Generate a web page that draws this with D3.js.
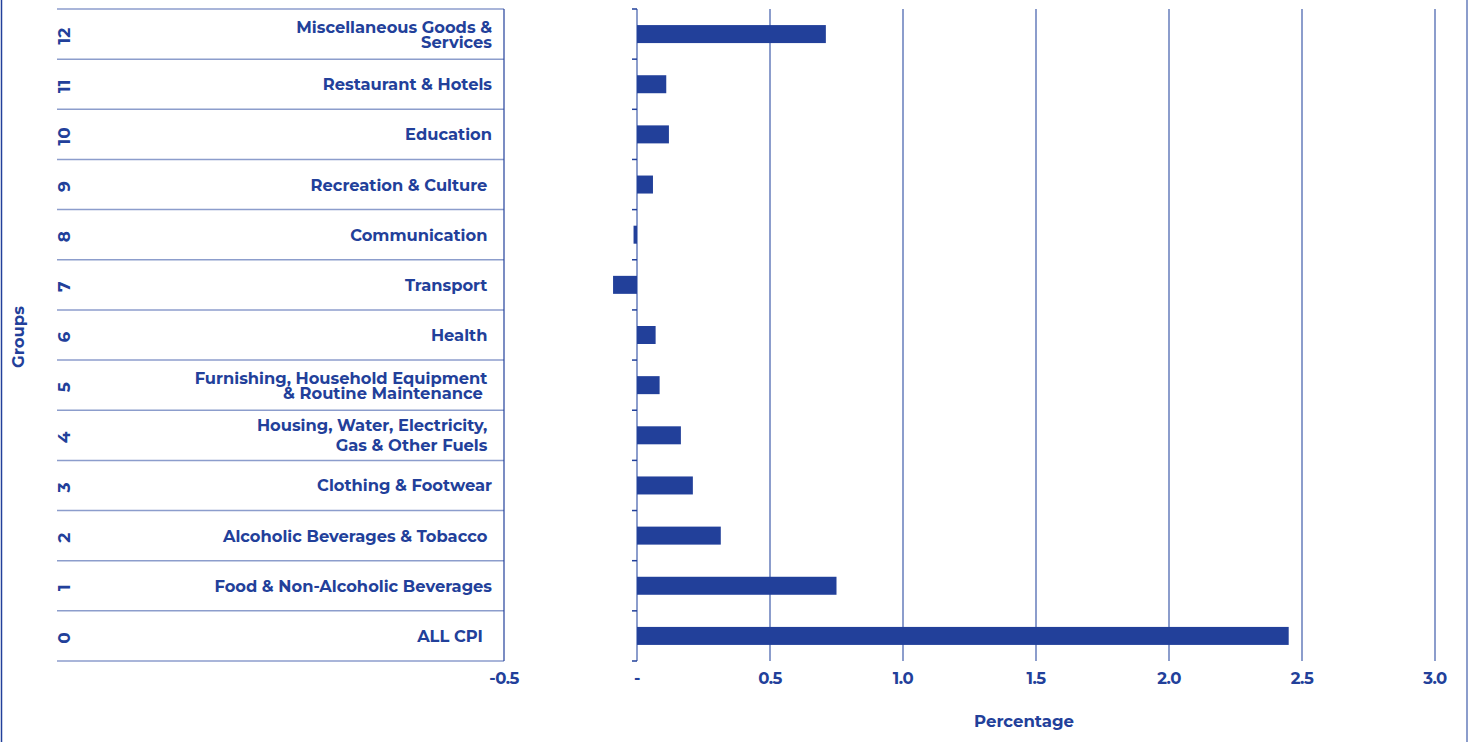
<!DOCTYPE html>
<html>
<head>
<meta charset="utf-8">
<script src="https://cdn.jsdelivr.net/npm/d3@7"></script>
<style>
  body { margin: 0; background: #fff; }
  svg { display: block; font-family: Montserrat, Inter, "Open Sans", sans-serif; font-weight: 700; }
  .lbl { white-space: pre; }
</style>
</head>
<body>
<svg id="chart" width="1474" height="742"></svg>
<script>
// group codes, top row first
const groups = [12, 11, 10, 9, 8, 7, 6, 5, 4, 3, 2, 1, 0];
const groupLabels = [
  ["Miscellaneous Goods &", "Services"],
  ["Restaurant & Hotels"],
  ["Education"],
  ["Recreation & Culture "],
  ["Communication "],
  ["Transport "],
  ["Health "],
  ["Furnishing, Household Equipment ", "& Routine Maintenance  "],
  ["Housing, Water, Electricity, ", "Gas & Other Fuels "],
  ["Clothing & Footwear"],
  ["Alcoholic Beverages & Tobacco "],
  ["Food & Non-Alcoholic Beverages"],
  ["ALL CPI  "]
];
const values = [0.71, 0.11, 0.12, 0.06, -0.013, -0.09, 0.07, 0.085, 0.165, 0.21, 0.315, 0.75, 2.45];
const xTicks = [-0.5, 0, 0.5, 1.0, 1.5, 2.0, 2.5, 3.0];

const dark = "#22409a";
const light = "#8c9dcc";

const svg = d3.select("#chart");

const x = d3.scaleLinear().domain([-0.5, 3.0]).range([504, 1435]);
const y = d3.scaleBand().domain(groups).range([9, 661]);
const barH = 18;

// outer frame lines
svg.append("line").attr("x1", 1.5).attr("x2", 1.5).attr("y1", 0).attr("y2", 742)
  .attr("stroke", dark).attr("stroke-width", 1.5);
svg.append("line").attr("x1", 1467).attr("x2", 1467).attr("y1", 0).attr("y2", 742)
  .attr("stroke", light).attr("stroke-width", 2);

// left table
const rowLines = groups.map(g => y(g)).concat([y.range()[1]]);
svg.append("g").selectAll("line")
  .data(rowLines)
  .enter().append("line")
  .attr("x1", 57).attr("x2", x(-0.5))
  .attr("y1", d => d).attr("y2", d => d)
  .attr("stroke", light).attr("stroke-width", 1.5);
svg.append("line")
  .attr("x1", x(-0.5)).attr("x2", x(-0.5))
  .attr("y1", y.range()[0]).attr("y2", y.range()[1])
  .attr("stroke", dark).attr("stroke-width", 1.2);

// group numbers (rotated)
svg.append("g").selectAll("text")
  .data(groups)
  .enter().append("text")
  .attr("transform", d => `translate(70,${y(d) + y.bandwidth() / 2 + 2}) rotate(-90)`)
  .attr("text-anchor", "middle")
  .attr("font-size", 17)
  .attr("fill", dark)
  .text(d => d);

// group labels
const lineGap = i => (i === 8 ? 20 : 15);
const lbl = svg.append("g").selectAll("text")
  .data(groups)
  .enter().append("text")
  .attr("class", "lbl")
  .attr("text-anchor", "end")
  .attr("font-size", 16.3)
  .attr("fill", dark)
  .attr("x", 492)
  .attr("y", (d, i) => {
    const n = groupLabels[i].length;
    return y(d) + y.bandwidth() / 2 + 6 - (n - 1) * lineGap(i) / 2;
  });
lbl.each(function(d, i) {
  const t = d3.select(this);
  groupLabels[i].forEach((line, j) => {
    t.append("tspan").attr("x", 492).attr("dy", j === 0 ? 0 : lineGap(i)).text(line);
  });
});

// vertical gridlines
svg.append("g").selectAll("line")
  .data(xTicks.filter(v => v > 0))
  .enter().append("line")
  .attr("x1", d => x(d)).attr("x2", d => x(d))
  .attr("y1", y.range()[0]).attr("y2", y.range()[1])
  .attr("stroke", light).attr("stroke-width", 2);

// zero axis with ticks at row boundaries
svg.append("line")
  .attr("x1", x(0)).attr("x2", x(0))
  .attr("y1", y.range()[0]).attr("y2", y.range()[1])
  .attr("stroke", light).attr("stroke-width", 2);
svg.append("g").selectAll("line")
  .data(rowLines)
  .enter().append("line")
  .attr("x1", x(0) - 5).attr("x2", x(0))
  .attr("y1", d => d).attr("y2", d => d)
  .attr("stroke", dark).attr("stroke-width", 1.5);

// bars
svg.append("g").selectAll("rect")
  .data(groups)
  .enter().append("rect")
  .attr("x", (d, i) => x(Math.min(0, values[i])))
  .attr("width", (d, i) => Math.abs(x(values[i]) - x(0)))
  .attr("y", d => y(d) + (y.bandwidth() - barH) / 2)
  .attr("height", barH)
  .attr("fill", dark);

// x tick labels (hyphen minus, zero shown as "-")
svg.append("g").selectAll("text")
  .data(xTicks)
  .enter().append("text")
  .attr("x", d => x(d))
  .attr("y", 684)
  .attr("text-anchor", "middle")
  .attr("font-size", 16.5)
  .attr("letter-spacing", -0.5)
  .attr("fill", dark)
  .text(d => d === 0 ? "-" : d3.format(".1f")(d).replace("−", "-"));

// axis titles
svg.append("text")
  .attr("x", 1024).attr("y", 727)
  .attr("text-anchor", "middle")
  .attr("font-size", 16.5)
  .attr("fill", dark)
  .text("Percentage");

svg.append("text")
  .attr("transform", "translate(24,337) rotate(-90)")
  .attr("text-anchor", "middle")
  .attr("font-size", 16.5)
  .attr("fill", dark)
  .text("Groups");
</script>
</body>
</html>
